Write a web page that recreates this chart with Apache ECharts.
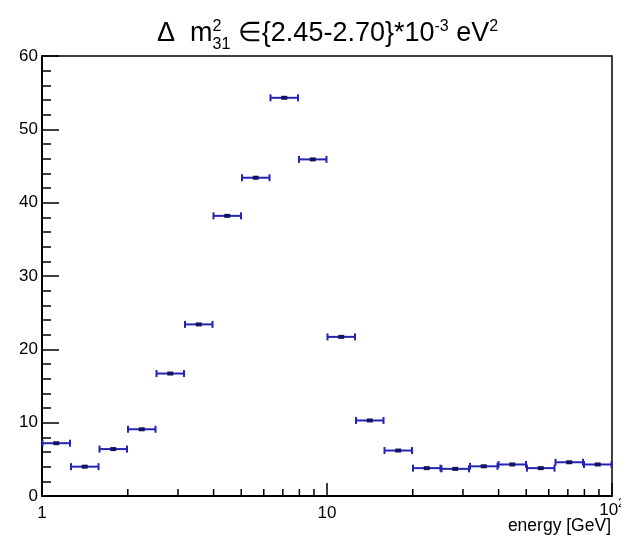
<!DOCTYPE html>
<html>
<head>
<meta charset="utf-8">
<script src="https://cdn.jsdelivr.net/npm/echarts@6/dist/echarts.min.js"></script>
<style>
html,body{margin:0;padding:0;background:#fff;}
#chart{width:621px;height:536px;}
</style>
</head>
<body>
<div id="chart"></div>
<script>
// Bin edges (GeV), 10 bins per decade from 1 to 100
var binEdges = [1, 1.259, 1.585, 1.995, 2.512, 3.162, 3.981, 5.012, 6.310, 7.943,
                10, 12.59, 15.85, 19.95, 25.12, 31.62, 39.81, 50.12, 63.10, 79.43, 100];
// Bin contents
var binValues = [7.2, 4.0, 6.4, 9.1, 16.7, 23.4, 38.2, 43.4, 54.3, 45.9,
                 21.7, 10.3, 6.2, 3.8, 3.7, 4.05, 4.3, 3.8, 4.6, 4.3];
// x-axis minor tick values
var xMinorTicks = [2, 3, 4, 5, 6, 7, 8, 9, 20, 30, 40, 50, 60, 70, 80, 90];
// x-axis tick labels
var xTickLabels = {1: '1', 10: '10', 100: '{b|10}{s|2}'};
var yTickLabels = [0, 10, 20, 30, 40, 50, 60];
var xAxisTitle = 'energy [GeV]';

var histData = binValues.map(function (v, i) { return [binEdges[i], binEdges[i + 1], v]; });

var chart = echarts.init(document.getElementById('chart'), null, {renderer: 'canvas'});
var FONT = '"Liberation Sans", Arial, Helvetica, sans-serif';

chart.setOption({
  backgroundColor: '#fff',
  animation: false,
  title: {
    left: 152,
    top: 13,
    text: '{m|Δ}  {m|m}{sup0|2}{sub|31} {m|∈}{2.45-2.70}*10{sup|-3} {m|eV}{sup|2}',
    textStyle: {
      fontFamily: FONT,
      fontSize: 27,
      fontWeight: 'normal',
      color: '#000',
      lineHeight: 32,
      rich: {
        m: {fontFamily: FONT, fontSize: 27, color: '#000', lineHeight: 32},
        sup0: {fontFamily: FONT, fontSize: 16, color: '#000', lineHeight: 32, padding: [0, 0, 14, 0], width: 0},
        sup: {fontFamily: FONT, fontSize: 16, color: '#000', lineHeight: 32, padding: [0, 0, 14, 0]},
        sub: {fontFamily: FONT, fontSize: 16, color: '#000', lineHeight: 32, padding: [22, 0, 0, 0]}
      }
    }
  },
  graphic: [{
    type: 'text',
    right: 10,
    top: 517,
    style: {text: xAxisTitle, fontFamily: FONT, fontSize: 17.5, fill: '#000'}
  }],
  grid: {
    left: 42, right: 9, top: 56, bottom: 40,
    containLabel: false,
    outerBoundsMode: 'none',
    show: true, borderColor: '#000', borderWidth: 1.5, backgroundColor: '#fff'
  },
  xAxis: {
    type: 'log',
    logBase: 10,
    min: 1,
    max: 100,
    axisLine: {show: true, lineStyle: {color: '#000', width: 2}},
    axisTick: {show: true, inside: true, length: 13, lineStyle: {color: '#000', width: 1.5}},
    splitLine: {show: false},
    axisLabel: {
      margin: 9,
      hideOverlap: false,
      fontFamily: FONT, fontSize: 17, color: '#000',
      formatter: function (v) { return xTickLabels[Math.round(v)] || ''; },
      rich: {
        b: {fontFamily: FONT, fontSize: 17, color: '#000', lineHeight: 17, padding: [0, 0, 6, 0]},
        s: {fontFamily: FONT, fontSize: 12, color: '#000', lineHeight: 17, padding: [0, 0, 20, 0]}
      }
    }
  },
  yAxis: {
    type: 'value',
    min: 0,
    max: 60,
    interval: 10,
    axisLine: {show: true, lineStyle: {color: '#000', width: 2}},
    axisTick: {show: true, inside: true, length: 17, lineStyle: {color: '#000', width: 1.5}},
    minorTick: {show: true, splitNumber: 5, length: 9, lineStyle: {color: '#000', width: 1.5}},
    splitLine: {show: false},
    axisLabel: {
      margin: 4,
      fontFamily: FONT, fontSize: 17, color: '#000',
      formatter: function (v) { return yTickLabels.indexOf(v) >= 0 ? String(v) : ''; }
    }
  },
  series: [
    {
      type: 'custom',
      name: 'minorTicks',
      silent: true,
      clip: false,
      data: xMinorTicks.map(function (t) { return [t, 0]; }),
      encode: {x: 0, y: 1},
      renderItem: function (params, api) {
        var p = api.coord([api.value(0), api.value(1)]);
        return {
          type: 'line',
          shape: {x1: p[0], y1: p[1], x2: p[0], y2: p[1] - 7},
          style: {stroke: '#000', lineWidth: 1.5}
        };
      }
    },
    {
      type: 'custom',
      name: 'hist',
      silent: true,
      clip: false,
      data: histData,
      encode: {x: [0, 1], y: 2},
      renderItem: function (params, api) {
        var lo = api.coord([api.value(0), api.value(2)]);
        var hi = api.coord([api.value(1), api.value(2)]);
        var cx = (lo[0] + hi[0]) / 2;
        var y = lo[1];
        var blue = '#2424b4';
        return {
          type: 'group',
          children: [
            {type: 'line', shape: {x1: lo[0], y1: y, x2: hi[0], y2: y}, style: {stroke: blue, lineWidth: 2}},
            {type: 'line', shape: {x1: lo[0] + 0.5, y1: y - 3.5, x2: lo[0] + 0.5, y2: y + 3.5}, style: {stroke: blue, lineWidth: 2}},
            {type: 'line', shape: {x1: hi[0] - 0.5, y1: y - 3.5, x2: hi[0] - 0.5, y2: y + 3.5}, style: {stroke: blue, lineWidth: 2}},
            {type: 'rect', shape: {x: cx - 3, y: y - 2, width: 6, height: 4}, style: {fill: '#14145e'}}
          ]
        };
      }
    }
  ]
});
</script>
</body>
</html>
